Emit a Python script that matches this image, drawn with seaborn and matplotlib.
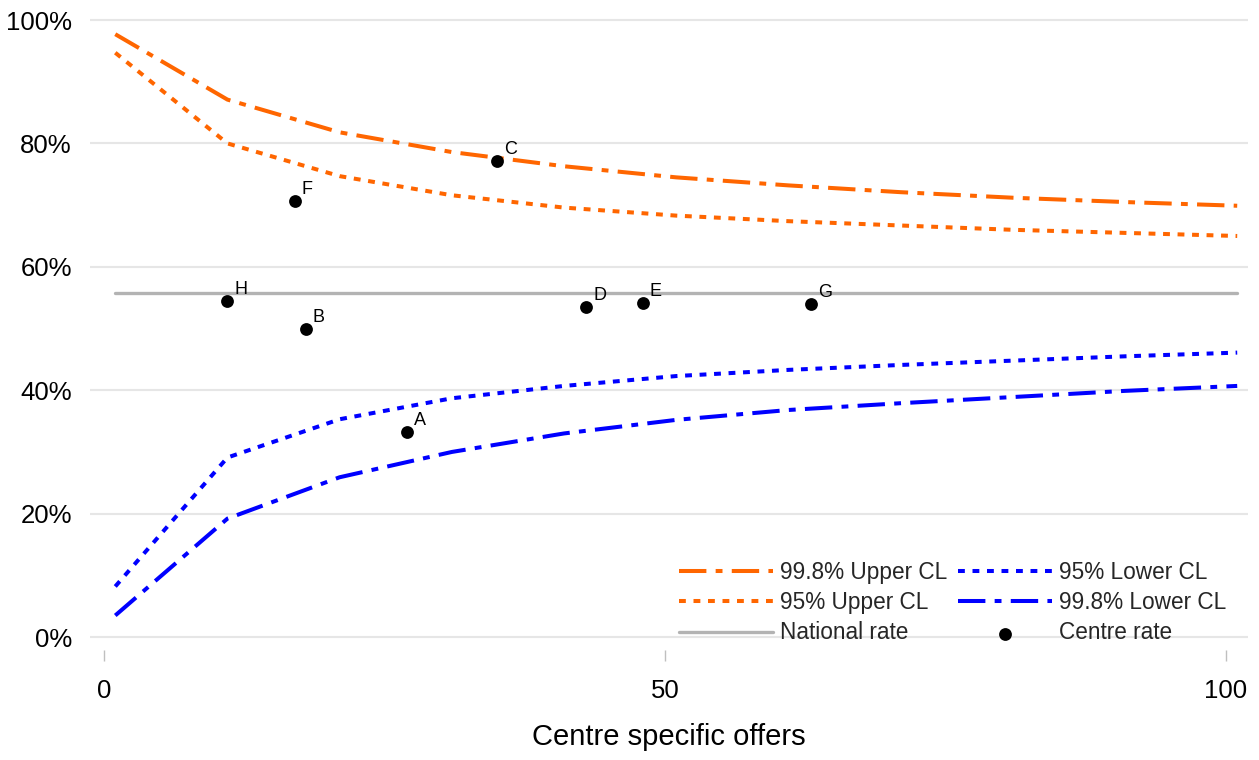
import matplotlib
matplotlib.use("Agg")
import matplotlib.pyplot as plt
import pandas as pd
import seaborn as sns
from matplotlib.ticker import PercentFormatter

# Control limits of the funnel, by number of offers
offers = [1, 11, 21, 31, 41, 51, 61, 71, 81, 91, 101]
upper_998 = [0.977, 0.871, 0.818, 0.786, 0.763, 0.745, 0.732, 0.721, 0.712, 0.705, 0.699]
upper_95 = [0.947, 0.800, 0.747, 0.716, 0.696, 0.683, 0.674, 0.667, 0.660, 0.655, 0.650]
lower_95 = [0.082, 0.291, 0.353, 0.387, 0.407, 0.423, 0.433, 0.441, 0.448, 0.455, 0.461]
lower_998 = [0.035, 0.192, 0.259, 0.300, 0.330, 0.352, 0.368, 0.379, 0.389, 0.399, 0.407]

national_rate = 0.5575
national_span = [1, 101]

# Individual centres
centres = ["A", "B", "C", "D", "E", "F", "G", "H"]
centre_offers = [27, 18, 35, 43, 48, 17, 63, 11]
centre_rates = [0.333, 0.500, 0.771, 0.535, 0.542, 0.706, 0.540, 0.545]

ORANGE = "#FF6600"
BLUE = "#0000FF"
GREY = "#B3B3B3"
INK = "#000000"

sns.set_theme(style="white")
plt.rcParams["font.family"] = ["Liberation Sans", "DejaVu Sans"]

fig = plt.figure(figsize=(12.59, 7.6), dpi=100)
ax = fig.add_axes([0.0715, 0.1447, 0.9201, 0.8314])

limits = pd.DataFrame({
    "offers": offers,
    "upper_998": upper_998,
    "upper_95": upper_95,
    "lower_95": lower_95,
    "lower_998": lower_998,
})

lw = 2.9
dash_dot = [6.8, 2.3, 1.7, 2.3]
dotted = [1.7, 1.9]

sns.lineplot(data=limits, x="offers", y="upper_998", color=ORANGE, linewidth=lw,
             label="99.8% Upper CL", ax=ax)
ax.lines[-1].set_dashes(dash_dot)
sns.lineplot(data=limits, x="offers", y="upper_95", color=ORANGE, linewidth=lw,
             label="95% Upper CL", ax=ax)
ax.lines[-1].set_dashes(dotted)
sns.lineplot(x=national_span, y=[national_rate, national_rate], color=GREY,
             linewidth=2.4, label="National rate", ax=ax)
sns.lineplot(data=limits, x="offers", y="lower_95", color=BLUE, linewidth=lw,
             label="95% Lower CL", ax=ax)
ax.lines[-1].set_dashes(dotted)
sns.lineplot(data=limits, x="offers", y="lower_998", color=BLUE, linewidth=lw,
             label="99.8% Lower CL", ax=ax)
ax.lines[-1].set_dashes(dash_dot)

sns.scatterplot(x=centre_offers, y=centre_rates, color="black", s=85,
                linewidth=0, label="Centre rate", zorder=5, ax=ax)

for name, x, y in zip(centres, centre_offers, centre_rates):
    ax.annotate(name, (x, y), xytext=(5, 5), textcoords="offset points",
                fontsize=13, ha="left", va="baseline", color=INK)

ax.set_xlim(-1.25, 102.0)
ax.set_ylim(-0.021, 1.003)
ax.set_xticks([0, 50, 100])
ax.set_yticks([0, 0.2, 0.4, 0.6, 0.8, 1.0])
ax.yaxis.set_major_formatter(PercentFormatter(1.0, decimals=0))

ax.yaxis.grid(True, color="#E6E6E6", linewidth=1.5)
ax.xaxis.grid(False)
ax.set_axisbelow(True)
for spine in ax.spines.values():
    spine.set_visible(False)

ax.tick_params(axis="y", length=0, pad=13, labelsize=18.5, labelcolor=INK)
ax.tick_params(axis="x", bottom=True, length=8, width=1, color="#BFBFBF",
               pad=13, labelsize=18.5, labelcolor=INK)

ax.set_xlabel("Centre specific offers", fontsize=21, labelpad=14, color=INK)
ax.set_ylabel("")

handles, labels = ax.get_legend_handles_labels()
lookup = dict(zip(labels, handles))
order = ["99.8% Upper CL", "95% Upper CL", "National rate",
         "95% Lower CL", "99.8% Lower CL", "Centre rate"]
ax.legend([lookup[k] for k in order], order, ncol=2, loc="lower right",
          bbox_to_anchor=(0.974, 0.152), bbox_transform=fig.transFigure,
          frameon=False, fontsize=16.3, handlelength=4.15, handletextpad=0.3,
          columnspacing=0.5, labelspacing=0.33, borderpad=0, borderaxespad=0,
          scatterpoints=1)

fig.savefig("out.png", dpi=100)
